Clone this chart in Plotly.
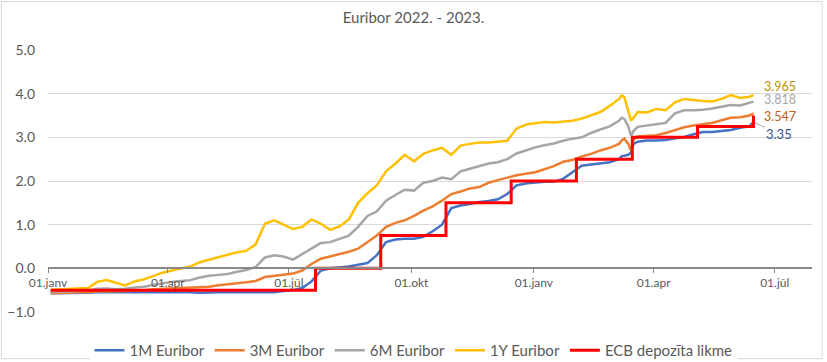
import plotly.graph_objects as go

# ---- data ----
dates = [
    "2022-01-03", "2022-01-10", "2022-01-17", "2022-01-24", "2022-01-31",
    "2022-02-07", "2022-02-14", "2022-02-21", "2022-02-28",
    "2022-03-07", "2022-03-14", "2022-03-21", "2022-03-28",
    "2022-04-04", "2022-04-11", "2022-04-18", "2022-04-25",
    "2022-05-02", "2022-05-09", "2022-05-16", "2022-05-23", "2022-05-30",
    "2022-06-06", "2022-06-13", "2022-06-20", "2022-06-27",
    "2022-07-04", "2022-07-11", "2022-07-18", "2022-07-25",
    "2022-08-01", "2022-08-08", "2022-08-15", "2022-08-22", "2022-08-29",
    "2022-09-05", "2022-09-12", "2022-09-19", "2022-09-26",
    "2022-10-03", "2022-10-10", "2022-10-17", "2022-10-24", "2022-10-31",
    "2022-11-07", "2022-11-14", "2022-11-21", "2022-11-28",
    "2022-12-05", "2022-12-12", "2022-12-19", "2022-12-27",
    "2023-01-02", "2023-01-09", "2023-01-16", "2023-01-23", "2023-01-30",
    "2023-02-06", "2023-02-13", "2023-02-20", "2023-02-27",
    "2023-03-06", "2023-03-08", "2023-03-10", "2023-03-13", "2023-03-15", "2023-03-17",
    "2023-03-20", "2023-03-27",
    "2023-04-03", "2023-04-10", "2023-04-17", "2023-04-24",
    "2023-05-01", "2023-05-08", "2023-05-15", "2023-05-22", "2023-05-29",
    "2023-06-05", "2023-06-12", "2023-06-15",
]

euribor_1m = [
    -0.57, -0.57, -0.56, -0.56, -0.56,
    -0.55, -0.55, -0.55, -0.54,
    -0.54, -0.55, -0.54, -0.54,
    -0.55, -0.54, -0.55, -0.56,
    -0.55, -0.55, -0.55, -0.55, -0.55,
    -0.54, -0.54, -0.55, -0.52,
    -0.50, -0.45, -0.30, -0.05,
    0.00, 0.02, 0.04, 0.08, 0.12,
    0.30, 0.60, 0.66, 0.68,
    0.68, 0.72, 0.85, 1.00, 1.38,
    1.44, 1.47, 1.52, 1.54,
    1.58, 1.70, 1.90, 1.95,
    1.97, 1.98, 1.98, 2.05, 2.20,
    2.35, 2.38, 2.40, 2.43,
    2.50, 2.57, 2.58, 2.60, 2.65, 2.85,
    2.90, 2.93,
    2.93, 2.94, 2.98, 3.01,
    3.07, 3.12, 3.12, 3.15, 3.17,
    3.22, 3.25, 3.35,
]

euribor_3m = [
    -0.57, -0.57, -0.56, -0.55, -0.55,
    -0.53, -0.53, -0.53, -0.52,
    -0.50, -0.50, -0.48, -0.47,
    -0.46, -0.45, -0.44, -0.43,
    -0.42, -0.39, -0.36, -0.34, -0.32,
    -0.29, -0.20, -0.17, -0.15,
    -0.12, -0.05, 0.10, 0.22,
    0.27, 0.32, 0.38, 0.45, 0.60,
    0.75, 0.95, 1.04, 1.10,
    1.20, 1.32, 1.42, 1.55, 1.70,
    1.76, 1.83, 1.86, 1.96,
    2.02, 2.08, 2.13, 2.17,
    2.20, 2.27, 2.34, 2.44, 2.48,
    2.56, 2.62, 2.70, 2.76,
    2.85, 2.93, 2.97, 2.85, 2.70, 2.95,
    3.02, 3.04,
    3.05, 3.10, 3.17, 3.23,
    3.27, 3.30, 3.33, 3.39, 3.45,
    3.46, 3.50, 3.547,
]

euribor_6m = [
    -0.54, -0.54, -0.53, -0.52, -0.51,
    -0.47, -0.46, -0.48, -0.47,
    -0.44, -0.42, -0.38, -0.34,
    -0.31, -0.29, -0.27, -0.21,
    -0.17, -0.15, -0.13, -0.08, -0.04,
    0.03, 0.25, 0.30, 0.27,
    0.20, 0.32, 0.45, 0.58,
    0.60, 0.67, 0.75, 0.95, 1.20,
    1.30, 1.55, 1.68, 1.80,
    1.78, 1.96, 2.00, 2.08, 2.04,
    2.22, 2.28, 2.34, 2.40,
    2.43, 2.50, 2.63, 2.72,
    2.77, 2.82, 2.86, 2.92, 2.97,
    3.00, 3.10, 3.18, 3.25,
    3.38, 3.45, 3.42, 3.25, 3.04, 3.15,
    3.24, 3.27,
    3.30, 3.33, 3.55, 3.62,
    3.62, 3.63, 3.66, 3.70, 3.74,
    3.73, 3.78, 3.818,
]

euribor_1y = [
    -0.49, -0.48, -0.47, -0.46, -0.45,
    -0.31, -0.27, -0.33, -0.39,
    -0.30, -0.25, -0.18, -0.10,
    -0.05, 0.00, 0.04, 0.14,
    0.20, 0.26, 0.31, 0.37, 0.40,
    0.55, 1.02, 1.10, 1.00,
    0.90, 0.95, 1.12, 1.02,
    0.88, 0.96, 1.12, 1.50, 1.72,
    1.90, 2.22, 2.40, 2.60,
    2.45, 2.62, 2.70, 2.76, 2.60,
    2.81, 2.85, 2.88, 2.88,
    2.90, 2.92, 3.20, 3.30,
    3.32, 3.35, 3.34, 3.36, 3.38,
    3.43, 3.50, 3.58, 3.72,
    3.88, 3.96, 3.92, 3.60, 3.38, 3.45,
    3.58, 3.57,
    3.65, 3.62, 3.80, 3.88,
    3.85, 3.83, 3.82, 3.88, 3.97,
    3.90, 3.93, 3.965,
]

ecb_dates = ["2022-01-03", "2022-07-21", "2022-09-08", "2022-10-27", "2022-12-15",
             "2023-02-02", "2023-03-16", "2023-05-04", "2023-06-15"]
ecb_rate = [-0.5, 0.0, 0.75, 1.5, 2.0, 2.5, 3.0, 3.25, 3.5]

series_names = ["1M Euribor", "3M Euribor", "6M Euribor", "1Y Euribor"]
series_values = [euribor_1m, euribor_3m, euribor_6m, euribor_1y]
series_colors = ["#4472C4", "#ED7D31", "#A5A5A5", "#FFC000"]
label_colors = ["#2F5597", "#C55A11", "#A5A5A5", "#BF9000"]
ecb_name = "ECB depozīta likme"

tick_vals = ["2022-01-01", "2022-04-01", "2022-07-01", "2022-10-01",
             "2023-01-01", "2023-04-01", "2023-07-01"]
tick_text = ["01.janv", "01.apr", "01.jūl", "01.okt", "01.janv", "01.apr", "01.jūl"]

FONT = "Lato"
GREY = "#595959"

fig = go.Figure()
for name, vals, col in zip(series_names, series_values, series_colors):
    fig.add_trace(go.Scatter(x=dates, y=vals, name=name, mode="lines",
                             line=dict(color=col, width=2.5)))
fig.add_trace(go.Scatter(x=ecb_dates, y=ecb_rate, name=ecb_name, mode="lines",
                         line=dict(color="#FF0000", width=3, shape="hv")))

# end-of-line data labels
last_date = dates[-1]
yshifts = [0, -3, 2, 9]
for i, (vals, col) in enumerate(zip(series_values, label_colors)):
    if i == 0:
        fig.add_annotation(x=last_date, y=vals[-1], text=str(vals[-1]),
                           showarrow=True, arrowhead=0, arrowwidth=1,
                           arrowcolor="#A6A6A6", ax=26, ay=12, standoff=2,
                           xanchor="center", font=dict(family=FONT, size=13, color=col))
    else:
        fig.add_annotation(x=last_date, y=vals[-1], text=str(vals[-1]),
                           showarrow=False, xanchor="left", xshift=9,
                           yshift=yshifts[i], font=dict(family=FONT, size=12.5, color=col))

# chart border
fig.add_shape(type="rect", xref="paper", yref="paper",
              x0=-0.061, x1=1.0132, y0=-0.178, y1=1.185,
              line=dict(color="#D9D9D9", width=1), fillcolor="rgba(0,0,0,0)", layer="below")

fig.update_layout(
    width=827, height=362,
    margin=dict(l=48, r=15, t=50, b=50, autoexpand=False),
    paper_bgcolor="white", plot_bgcolor="white",
    font=dict(family=FONT, color=GREY, size=13),
    title=dict(text="Euribor 2022. - 2023.", x=0.5, xref="container",
               y=1 - 18 / 362, yref="container", yanchor="middle", xanchor="center",
               font=dict(family=FONT, size=15, color=GREY)),
    showlegend=True,
    legend=dict(orientation="h", xref="container", yref="container",
                x=0.5, xanchor="center", y=1 - 334 / 362, yanchor="top",
                font=dict(family=FONT, size=15, color=GREY),
                itemwidth=30, traceorder="normal"),
    xaxis=dict(type="date", range=["2022-01-01", "2023-07-29"],
               anchor="free", position=1 / 6, automargin=False,
               showgrid=False, showline=True, linecolor="#898989", linewidth=1.5,
               ticks="outside", ticklen=4, tickcolor="#898989",
               tickvals=tick_vals, ticktext=tick_text,
               tickfont=dict(family=FONT, size=12, color=GREY)),
    yaxis=dict(range=[-1, 5], dtick=1, tickformat=".1f", automargin=False,
               showgrid=True, gridcolor="#D9D9D9", gridwidth=1,
               zeroline=False, showline=False, ticks="",
               ticklabelstandoff=12,
               tickfont=dict(family=FONT, size=14, color=GREY)),
)

fig.write_html("out.html", config={"displayModeBar": False},
               post_script="document.body.style.margin='0';")
